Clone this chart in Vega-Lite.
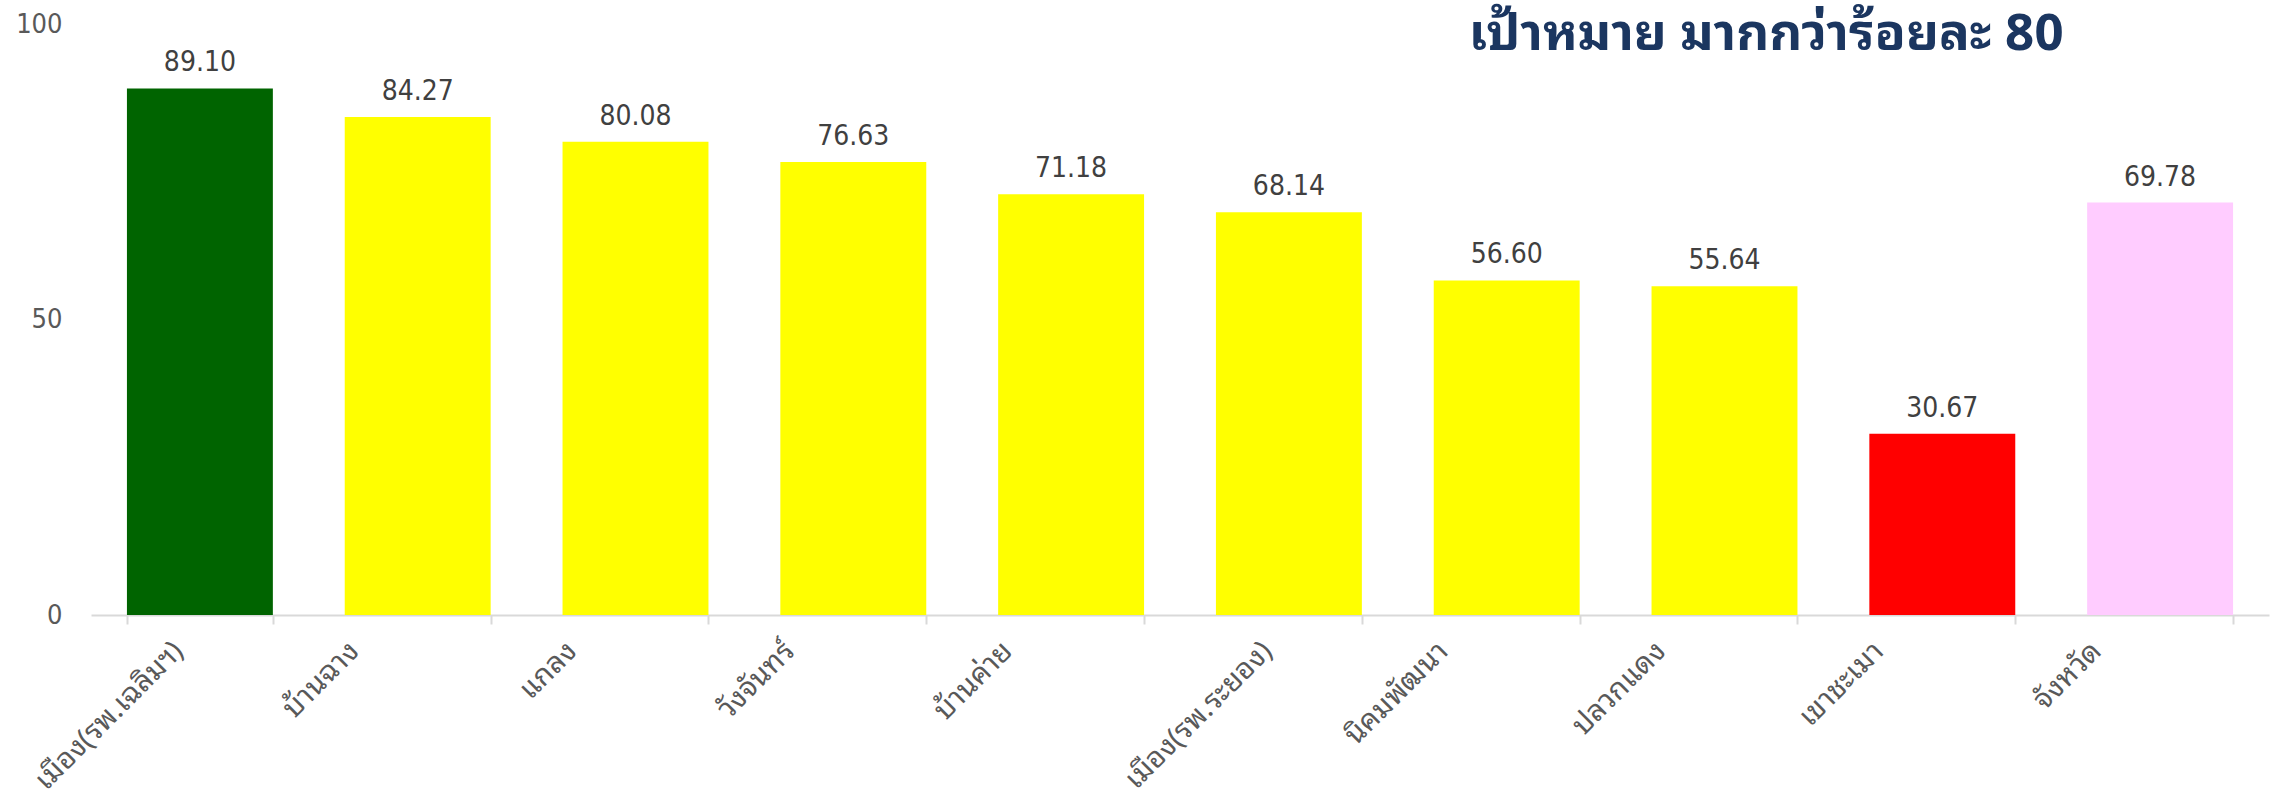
{
  "$schema": "https://vega.github.io/schema/vega-lite/v6.json",
  "width": 2178,
  "height": 591,
  "autosize": {"type": "none"},
  "padding": {"left": 91, "top": 24, "right": 6, "bottom": 175},
  "background": "white",
  "title": {
    "text": "เป้าหมาย มากกว่าร้อยละ 80",
    "orient": "top",
    "anchor": "end",
    "frame": "group",
    "dx": -205,
    "offset": -51,
    "fontSize": 51,
    "fontWeight": "bold",
    "color": "#1B3660",
    "font": "Noto Sans Thai Looped, Noto Sans Thai, DejaVu Sans Condensed, DejaVu Sans, sans-serif"
  },
  "config": {"view": {"stroke": null}},
  "data": {
    "values": [
      {"name": "เมือง(รพ.เฉลิมฯ)", "value": 89.10},
      {"name": "บ้านฉาง", "value": 84.27},
      {"name": "แกลง", "value": 80.08},
      {"name": "วังจันทร์", "value": 76.63},
      {"name": "บ้านค่าย", "value": 71.18},
      {"name": "เมือง(รพ.ระยอง)", "value": 68.14},
      {"name": "นิคมพัฒนา", "value": 56.60},
      {"name": "ปลวกแดง", "value": 55.64},
      {"name": "เขาชะเมา", "value": 30.67},
      {"name": "จังหวัด", "value": 69.78}
    ]
  },
  "encoding": {
    "x": {
      "field": "name",
      "type": "nominal",
      "sort": null,
      "scale": {"paddingInner": 0.33, "paddingOuter": 0.165},
      "axis": {
        "title": null,
        "labelAngle": -45,
        "labelAlign": "right",
        "labelBaseline": "middle",
        "labelFontSize": 29,
        "labelColor": "#595959",
        "labelFont": "Noto Sans Thai Looped, Noto Sans Thai, DejaVu Sans Condensed, DejaVu Sans, sans-serif",
        "labelPadding": 22,
        "labelOffset": {"condition": {"test": "indexof(datum.label, '(') >= 0", "value": -22}, "value": -64},
        "labelOverlap": false,
        "labelLimit": 0,
        "tickBand": "extent",
        "tickSize": 9,
        "tickColor": "#D9D9D9",
        "tickWidth": 2,
        "domainColor": "#D9D9D9",
        "domainWidth": 2,
        "grid": false
      }
    },
    "y": {
      "field": "value",
      "type": "quantitative",
      "scale": {"domain": [0, 100]},
      "axis": {
        "title": null,
        "values": [0, 50, 100],
        "domain": false,
        "ticks": false,
        "grid": false,
        "labelFontSize": 27,
        "labelColor": "#595959",
        "labelFont": "DejaVu Sans Condensed, DejaVu Sans, sans-serif",
        "labelPadding": 29
      }
    }
  },
  "layer": [
    {
      "mark": {"type": "bar"},
      "encoding": {
        "color": {
          "field": "name",
          "type": "nominal",
          "legend": null,
          "scale": {
            "domain": ["เมือง(รพ.เฉลิมฯ)", "บ้านฉาง", "แกลง", "วังจันทร์", "บ้านค่าย", "เมือง(รพ.ระยอง)", "นิคมพัฒนา", "ปลวกแดง", "เขาชะเมา", "จังหวัด"],
            "range": ["#006400", "#FFFF00", "#FFFF00", "#FFFF00", "#FFFF00", "#FFFF00", "#FFFF00", "#FFFF00", "#FF0000", "#FFCCFF"]
          }
        }
      }
    },
    {
      "mark": {
        "type": "text",
        "baseline": "alphabetic",
        "dy": -17,
        "fontSize": 28,
        "color": "#404040",
        "font": "DejaVu Sans Condensed, DejaVu Sans, sans-serif"
      },
      "encoding": {
        "text": {"field": "value", "type": "quantitative", "format": ".2f"}
      }
    }
  ]
}
